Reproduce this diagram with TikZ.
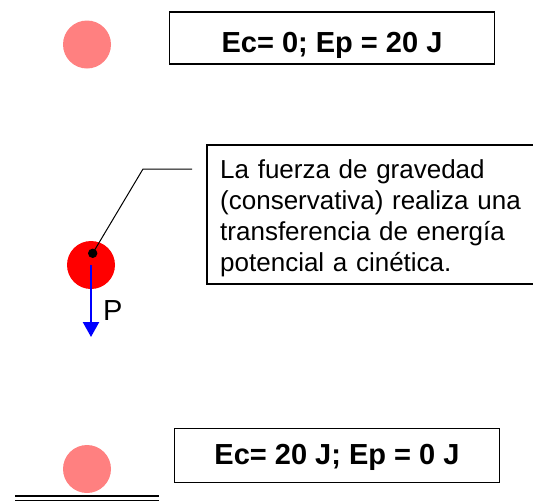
\documentclass[tikz,border=0pt]{standalone}
\usepackage{fontspec}
\setmainfont{Liberation Sans}
\usetikzlibrary{arrows.meta}
\definecolor{rosa}{RGB}{255,128,128}
\begin{document}
\begin{tikzpicture}[x=1pt,y=-1pt,
  energia/.style={draw,line width=1.3pt,minimum width=325pt,inner sep=0pt,text depth=0pt,font=\fontsize{29}{34}\selectfont\bfseries},
  bola/.style={circle,inner sep=0pt,minimum size=48pt}]
\clip (0,0) rectangle (533,501);
% arriba
\node[bola,fill=rosa] (arriba) at (87,44.5) {};
\node[energia,minimum height=52pt,text height=28.4pt] (ecarriba) at (332,37.9) {Ec= 0; Ep = 20 J};
% en caida
\node[bola,fill=red] (medio) at (91,265) {};
\node[circle,fill,inner sep=0pt,minimum size=9.4pt] (punto) at (92.7,253.3) {};
\draw[line width=1pt] (punto.center) -- (143,169) coordinate (codo) -- (192,169) coordinate (extremo);
\draw[blue,line width=2.3pt,-{Triangle[width=16pt,length=15pt]}] (medio.center) -- ++(0,72) coordinate (pie);
\node[anchor=base west,inner sep=0pt,font=\fontsize{29}{34}\selectfont] (peso) at (103,320.7) {P};
\draw[line width=1.3pt] (207,145) rectangle (560,284);
\node[anchor=base west,inner sep=0pt,text width=320pt,align=left,font=\fontsize{26}{31.1}\selectfont] (nota) at (220,178.3) {La fuerza de gravedad\\(conservativa) realiza una\\transferencia de energía\\potencial a cinética.};
% abajo
\node[bola,fill=rosa] (abajo) at (87,469) {};
\node[energia,minimum height=54pt,text height=17.6pt] (ecabajo) at (337,455.8) {Ec= 20 J; Ep = 0 J};
\draw[line width=2.3pt] (15,496) coordinate (suelo) -- (159,496);
\draw[line width=1pt] (15,500) -- (159,500);
\end{tikzpicture}
\end{document}
